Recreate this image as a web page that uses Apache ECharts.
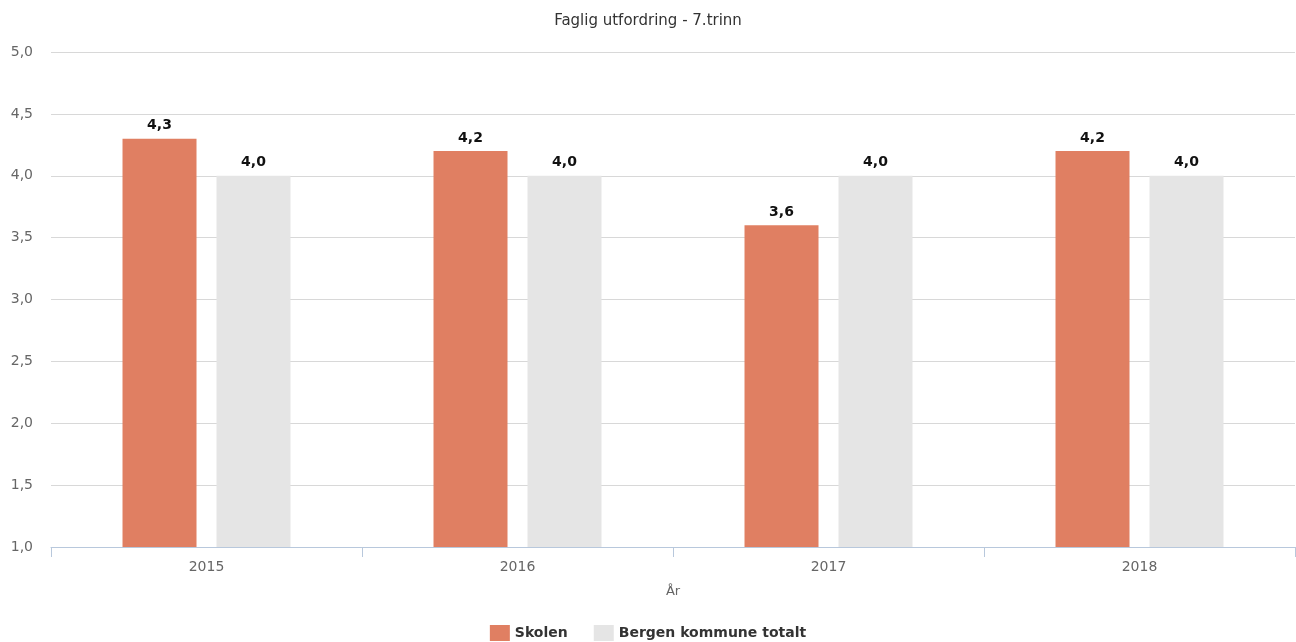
<!DOCTYPE html>
<html>
<head>
<meta charset="utf-8">
<script src="https://cdn.jsdelivr.net/npm/echarts@6/dist/echarts.min.js"></script>
<style>
  html, body { margin: 0; padding: 0; background: #fff; }
  #chart { width: 1296px; height: 642px; }
</style>
</head>
<body>
<div id="chart"></div>
<script>
const years = ["2015", "2016", "2017", "2018"];
const skolen = [4.3, 4.2, 3.6, 4.2];
const bergen = [4.0, 4.0, 4.0, 4.0];

const FONT = "DejaVu Sans";
const fmt = (v) => Number(v).toFixed(1).replace(".", ",");

const chart = echarts.init(document.getElementById("chart"));

const valueLabel = {
    show: true,
    position: "top",
    distance: 6,
    formatter: (p) => fmt(p.value),
    fontFamily: FONT,
    fontSize: 14,
    fontWeight: "bold",
    color: "#111",
};

chart.setOption({
    animation: false,
    backgroundColor: "#fff",
    textStyle: { fontFamily: FONT },
    title: {
        text: "Faglig utfordring - 7.trinn",
        left: "center",
        top: 9,
        textStyle: { fontFamily: FONT, fontSize: 15, fontWeight: "normal", color: "#333" },
    },
    legend: {
        top: 620,
        left: "center",
        itemWidth: 20,
        itemHeight: 16,
        itemGap: 26,
        icon: "rect",
        textStyle: { fontFamily: FONT, fontSize: 14, fontWeight: "bold", color: "#333" },
        data: ["Skolen", "Bergen kommune totalt"],
    },
    grid: { left: 51, right: 1, top: 52, bottom: 95, containLabel: false },
    xAxis: {
        type: "category",
        data: years,
        name: "År",
        nameLocation: "middle",
        nameGap: 38,
        nameTextStyle: { fontFamily: FONT, fontSize: 13, color: "#666" },
        axisLine: { show: true, lineStyle: { color: "#B8C8DC" } },
        axisTick: { show: true, length: 10, lineStyle: { color: "#B8C8DC" } },
        axisLabel: { fontFamily: FONT, fontSize: 14, color: "#666", margin: 13 },
    },
    yAxis: {
        type: "value",
        min: 1,
        max: 5,
        interval: 0.5,
        axisLine: { show: false },
        axisTick: { show: false },
        axisLabel: { fontFamily: FONT, fontSize: 14, color: "#666", margin: 18, formatter: fmt },
        splitLine: { lineStyle: { color: "#D8D8D8" } },
    },
    series: [
        {
            name: "Skolen",
            type: "bar",
            data: skolen,
            barWidth: 74,
            barGap: "27%",
            itemStyle: { color: "#E07F62" },
            label: valueLabel,
        },
        {
            name: "Bergen kommune totalt",
            type: "bar",
            data: bergen,
            barWidth: 74,
            itemStyle: { color: "#E5E5E5" },
            label: valueLabel,
        },
    ],
});
</script>
</body>
</html>
